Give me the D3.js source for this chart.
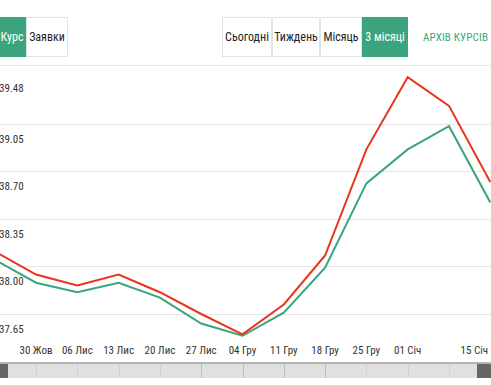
<!DOCTYPE html>
<html>
<head>
<meta charset="utf-8">
<script src="https://cdn.jsdelivr.net/npm/d3@7"></script>
<style>
  body { margin: 0; background: #fff; overflow: hidden; }
  svg { display: block; font-family: "Liberation Sans Narrow", "Roboto Condensed", "Liberation Sans", sans-serif; }
</style>
</head>
<body>
<div class="chart"></div>
<script>
// weekly dates (Mondays)
const dates = ["2023-10-23", "2023-10-30", "2023-11-06", "2023-11-13", "2023-11-20", "2023-11-27",
  "2023-12-04", "2023-12-11", "2023-12-18", "2023-12-25", "2024-01-01", "2024-01-08", "2024-01-15"];
const sellRate = [38.11, 37.94, 37.86, 37.94, 37.81, 37.65, 37.50, 37.72, 38.08, 38.86, 39.39, 39.18, 38.62];
const buyRate = [38.05, 37.88, 37.81, 37.88, 37.77, 37.58, 37.49, 37.66, 37.99, 38.61, 38.86, 39.03, 38.47];
const yTicks = [39.48, 39.05, 38.70, 38.35, 38.00, 37.65];
const xTickDates = ["2023-10-30", "2023-11-06", "2023-11-13", "2023-11-20", "2023-11-27", "2023-12-04",
  "2023-12-11", "2023-12-18", "2023-12-25", "2024-01-01", "2024-01-15"];
const monthsUa = ["Січ", "Лют", "Бер", "Кві", "Тра", "Чер", "Лип", "Сер", "Вер", "Жов", "Лис", "Гру"];

const leftTabs = [{ label: "Курс", x0: -20, x1: 26, active: true }, { label: "Заявки", x0: 26, x1: 68 }];
const rightTabs = [
  { label: "Сьогодні", x0: 222, x1: 272 }, { label: "Тиждень", x0: 272, x1: 320 },
  { label: "Місяць", x0: 320, x1: 362 }, { label: "3 місяці", x0: 362, x1: 408, active: true }];

const width = 491, height = 385;
const green = "#3aa57c", red = "#e8341c";
const parse = d3.timeParse("%Y-%m-%d");

const svg = d3.select(".chart").append("svg")
  .attr("width", width)
  .attr("height", height);

// tab buttons
const tabs = svg.append("g");
[...leftTabs, ...rightTabs].forEach(t => {
  tabs.append("rect")
    .attr("x", t.x0 + 0.5).attr("y", 17.5)
    .attr("width", t.x1 - t.x0 - 1).attr("height", 39)
    .attr("fill", t.active ? green : "#fff")
    .attr("stroke", t.active ? green : "#e3e3e3");
  tabs.append("text")
    .attr("x", t.label == "Курс" ? 12 : (t.x0 + t.x1) / 2).attr("y", 41)
    .attr("text-anchor", "middle")
    .attr("font-size", 12)
    .attr("fill", t.active ? "#fff" : "#222")
    .text(t.label);
});
tabs.append("text")
  .attr("x", 423).attr("y", 41)
  .attr("font-size", 11)
  .attr("textLength", 65)
  .attr("lengthAdjust", "spacing")
  .attr("fill", green)
  .text("АРХІВ КУРСІВ");

// scales
const x = d3.scaleTime()
  .domain([parse("2023-10-30"), parse("2024-01-15")])
  .range([36, 490.3]);
const y = d3.scaleLinear()
  .domain([37.65, 39.48])
  .range([314, 65]);

// grid
const grid = svg.append("g");
grid.selectAll("line")
  .data(yTicks)
  .enter().append("line")
  .attr("x1", 0).attr("x2", width)
  .attr("y1", d => Math.round(y(d)) + 0.5)
  .attr("y2", d => Math.round(y(d)) + 0.5)
  .attr("stroke", "#e6e6e6");
grid.selectAll("text")
  .data(yTicks)
  .enter().append("text")
  .attr("x", -1)
  .attr("y", d => Math.max(y(d) + 19, 92))
  .attr("font-size", 11)
  .attr("fill", "#333")
  .text(d => d.toFixed(2));

// lines
const plot = svg.append("g");
const rateLine = d3.line().x((d, i) => x(parse(dates[i]))).y(d => y(d));
plot.append("path")
  .datum(buyRate)
  .attr("fill", "none")
  .attr("stroke", green)
  .attr("stroke-width", 2)
  .attr("d", rateLine);
plot.append("path")
  .datum(sellRate)
  .attr("fill", "none")
  .attr("stroke", red)
  .attr("stroke-width", 2)
  .attr("d", rateLine);

// x labels
const fmt = d => d3.timeFormat("%d")(d) + " " + monthsUa[d.getMonth()];
svg.append("g").selectAll("text")
  .data(xTickDates)
  .enter().append("text")
  .attr("x", (d, i) => i == xTickDates.length - 1 ? 488 : x(parse(d)))
  .attr("y", 354)
  .attr("text-anchor", (d, i) => i == xTickDates.length - 1 ? "end" : "middle")
  .attr("font-size", 11)
  .attr("fill", "#333")
  .text(d => fmt(parse(d)));

// navigator strip
const nav = svg.append("g");
nav.append("rect").attr("x", 0).attr("y", 362).attr("width", width).attr("height", 2).attr("fill", "#b5b5b5");
nav.append("rect").attr("x", 0).attr("y", 364).attr("width", width).attr("height", 14).attr("fill", "#e0e0e0");
nav.selectAll("line")
  .data(dates.slice(1, -1))
  .enter().append("line")
  .attr("x1", d => Math.round(x(parse(d))) + 0.5)
  .attr("x2", d => Math.round(x(parse(d))) + 0.5)
  .attr("y1", 364).attr("y2", 378)
  .attr("stroke", (d, i) => (i >= 4 && i <= 7) ? "#bdbdbd" : "#d2d2d2");
nav.append("rect").attr("x", 0).attr("y", 364).attr("width", 8).attr("height", 14).attr("fill", "#666");
nav.append("rect").attr("x", 477).attr("y", 364).attr("width", 14).attr("height", 14).attr("fill", "#666");
</script>
</body>
</html>
